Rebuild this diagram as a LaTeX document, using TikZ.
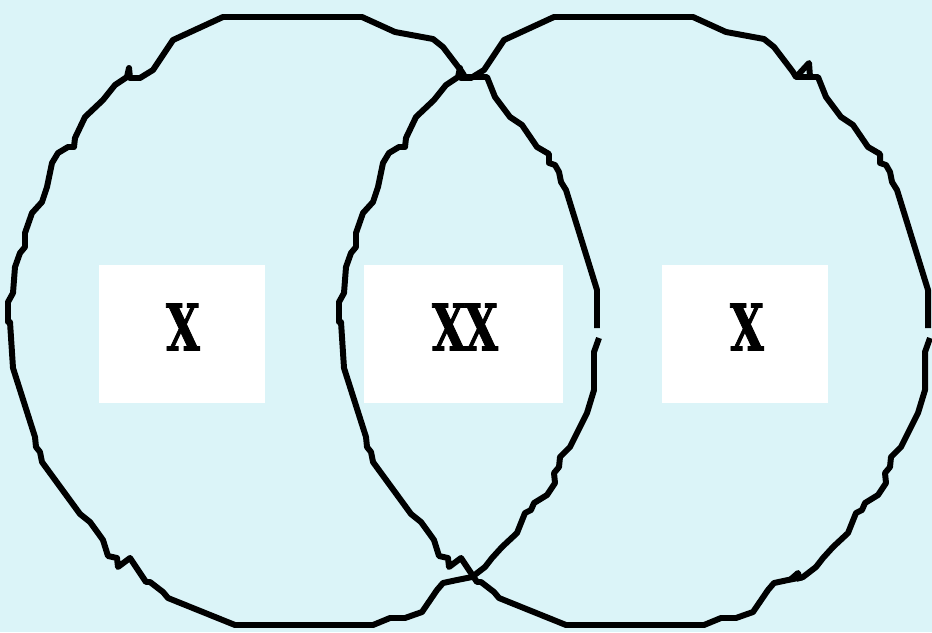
\documentclass[tikz,border=0pt]{standalone}
\usepackage{tikz}
\usepackage{xcolor}
\usepackage{fontspec}
\setmainfont{DejaVu Serif}[BoldFeatures={FakeBold=1.6}]
\definecolor{paper}{RGB}{219,244,248}

\tikzset{
  ringline/.style={line width=3.4pt, black, line join=round},
  panel/.style={fill=white, inner sep=0pt, minimum height=2.76cm},
  numeral/.style={inner sep=0pt, font=\bfseries\fontsize{36.5}{36.5}\selectfont},
  ring/.pic={
    \draw [ringline]
      (599,338) -- (594,352) -- (594,390) -- (587,413) -- (577,433) --
      (570,447) -- (560,457) -- (559,467) -- (554,473) -- (555,483) --
      (547,495) -- (534,503) -- (531,510) -- (525,513) -- (517,533) --
      (502,547) -- (492,558) -- (485,567) -- (472,577) -- (457,580) --
      (443,583) -- (437,590) -- (422,612) -- (405,618) -- (390,618) --
      (373,625) -- (235,625) -- (168,598) -- (163,592) -- (150,582) --
      (146,582) -- (130,558) -- (118,567) -- (117,558) -- (108,556) --
      (103,540) -- (98,533) -- (90,522) -- (80,514) -- (42,462) --
      (40,452) -- (36,447) -- (35,437) -- (13,368) -- (10,322) --
      (8,322) -- (8,302) -- (13,293) -- (15,267) -- (20,253) --
      (25,247) -- (25,233) -- (32,213) -- (42,202) -- (47,187) --
      (52,163) -- (58,153) -- (68,147) -- (74,147) -- (75,138) --
      (85,117) -- (103,100) -- (115,85) -- (127,77) -- (129,68) --
      (130,78) -- (140,78) -- (153,70) -- (173,40) -- (223,17) --
      (362,17) -- (395,32) -- (433,39) -- (443,47) -- (462,72) --
      (465,77) -- (487,77) -- (495,97) -- (510,117) -- (522,125) --
      (537,147) -- (549,154) -- (549,163) -- (555,165) -- (559,172) --
      (561,182) -- (566,190) -- (597,290) -- (597,328);
  }
}

\begin{document}
\begin{tikzpicture}[x=0.02cm, y=-0.02cm]
\fill [paper] (0,0) rectangle (932,632);
\useasboundingbox (0,0) rectangle (932,632);

% two rough rings
\pic at (0,0) {ring};
\pic at (331,0) {ring};
% extra kinks on the right ring
\draw [ringline] (797,76) -- (809,63) -- (810,77);
\draw [ringline] (790,580) -- (798,573) -- (800,581);

% white panels
\node [panel, minimum width=3.32cm] (left) at (182,334) {};
\node [panel, minimum width=3.98cm] (middle) at (463.5,334) {};
\node [panel, minimum width=3.32cm] (right) at (745,334) {};

\node [numeral] (lefttext) at (183,327) {\scalebox{0.68}[1]{X}};
\node [numeral] (middletext) at (465,327) {\scalebox{0.68}[1]{X\kern-0.04em X}};
\node [numeral] (righttext) at (747,327) {\scalebox{0.68}[1]{X}};
\end{tikzpicture}
\end{document}
